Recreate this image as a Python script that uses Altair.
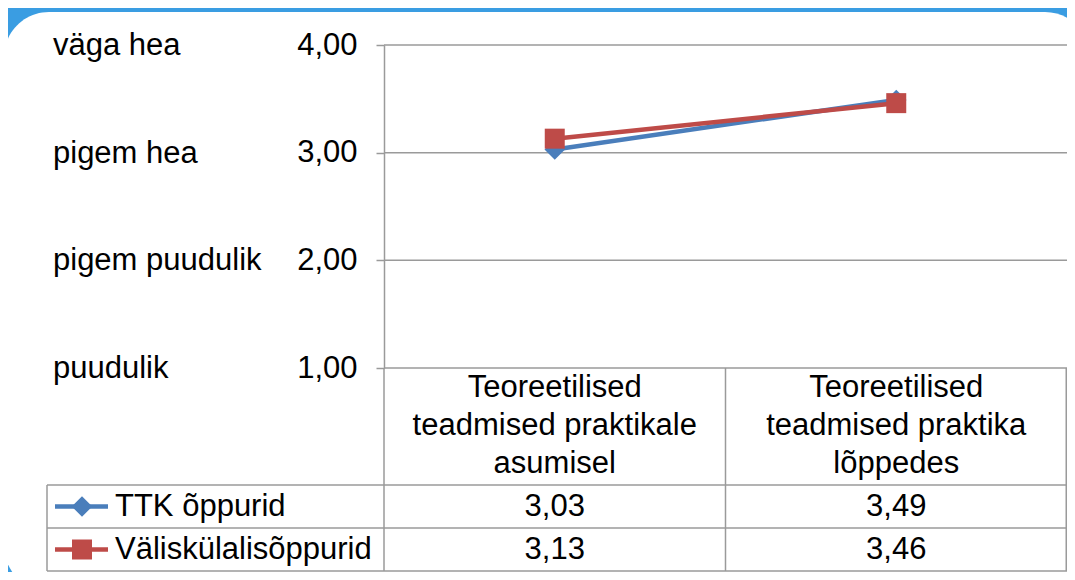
import altair as alt
import pandas as pd

# ---- data ----
categories = ["Teoreetilised\nteadmised praktikale\nasumisel",
              "Teoreetilised\nteadmised praktika\nlõppedes"]
series = ["TTK õppurid", "Väliskülalisõppurid"]
ttk_values = [3.03, 3.49]
valis_values = [3.13, 3.46]
tick_values = [1, 2, 3, 4]
tick_names = ["puudulik", "pigem puudulik", "pigem hea", "väga hea"]

BLUE = "#4a7ebb"
RED = "#be4b48"
GRID = "#9a9a9a"
FONT = "Liberation Sans"
FS = 31

rows = []
for s, vals in zip(series, [ttk_values, valis_values]):
    for c, v in zip(categories, vals):
        rows.append({"category": c, "series": s, "value": v})
df = pd.DataFrame(rows)
ticks_df = pd.DataFrame({"v": tick_values, "name": tick_names})
one = pd.DataFrame({"a": [0]})

W, H = 683, 323
yscale = alt.Scale(domain=[1, 4], nice=False, zero=False)
xscale = alt.Scale(domain=categories, padding=0.5)
yax = alt.Axis(values=tick_values, title=None, grid=False, zindex=1,
               labelExpr="replace(format(datum.value, '.2f'), '.', ',')",
               labelFont=FONT, labelFontSize=FS, labelColor="black",
               tickSize=8, tickColor=GRID, tickWidth=1.5,
               domainColor=GRID, domainWidth=1.5, labelPadding=19)
color = alt.Color("series:N", scale=alt.Scale(domain=series, range=[BLUE, RED]), legend=None)
shape = alt.Shape("series:N", scale=alt.Scale(domain=series, range=["diamond", "square"]), legend=None)
size = alt.Size("series:N", scale=alt.Scale(domain=series, range=[420, 400]), legend=None)

panel = alt.Chart(one).mark_rect(color="white", cornerRadius=45).encode(
    x=alt.value(-380), x2=alt.value(706), y=alt.value(-33), y2=alt.value(546))

grid = alt.Chart(ticks_df).mark_rule(color=GRID, strokeWidth=1.5).encode(
    y=alt.Y("v:Q", scale=yscale, axis=yax))

def rule(x, x2, y, y2):
    return alt.Chart(one).mark_rule(color=GRID, strokeWidth=1.5).encode(
        x=alt.value(x), x2=alt.value(x2), y=alt.value(y), y2=alt.value(y2))

ROW1, ROW2, BOTTOM = 440, 483, 526
table_lines = [
    rule(0, 0, H, BOTTOM),
    rule(W / 2, W / 2, H, BOTTOM),
    rule(W - 0.75, W - 0.75, H, BOTTOM),
    rule(-337, -337, ROW1, BOTTOM),
    rule(-337, W, ROW1, ROW1),
    rule(-337, W, ROW2, ROW2),
    rule(-337, W, BOTTOM, BOTTOM),
]

names = alt.Chart(ticks_df).mark_text(align="left", baseline="middle", font=FONT,
                                      fontSize=FS, color="black", dy=1).encode(
    x=alt.value(-331), y=alt.Y("v:Q", scale=yscale, axis=yax), text="name:N")

lines = alt.Chart(df).mark_line(strokeWidth=4.5).encode(
    x=alt.X("category:N", scale=xscale, axis=None),
    y=alt.Y("value:Q", scale=yscale, axis=yax),
    color=color, detail="series:N")
points = alt.Chart(df).mark_point(filled=True, opacity=1).encode(
    x=alt.X("category:N", scale=xscale, axis=None),
    y=alt.Y("value:Q", scale=yscale, axis=yax),
    color=color, shape=shape, size=size)

header = alt.Chart(pd.DataFrame({"category": categories})).mark_text(
    align="center", baseline="middle", lineBreak="\n", lineHeight=38,
    font=FONT, fontSize=FS, color="black").encode(
    x=alt.X("category:N", scale=xscale, axis=None), y=alt.value(343), text="category:N")

row_y = {series[0]: (ROW1 + ROW2) / 2, series[1]: (ROW2 + BOTTOM) / 2}
row_layers = []
for s in series:
    sub = df[df["series"] == s]
    row_layers.append(
        alt.Chart(sub).transform_calculate(
            label="replace(format(datum.value, '.2f'), '.', ',')"
        ).mark_text(align="center", baseline="middle", font=FONT, fontSize=FS,
                    color="black").encode(
            x=alt.X("category:N", scale=xscale, axis=None),
            y=alt.value(row_y[s]), text="label:N"))
    leg = pd.DataFrame({"series": [s]})
    row_layers.append(
        alt.Chart(leg).mark_rule(strokeWidth=4.5).encode(
            x=alt.value(-329), x2=alt.value(-276), y=alt.value(row_y[s]), color=color))
    row_layers.append(
        alt.Chart(leg).mark_point(filled=True, opacity=1).encode(
            x=alt.value(-302), y=alt.value(row_y[s]), color=color, shape=shape, size=size))
    row_layers.append(
        alt.Chart(leg).mark_text(align="left", baseline="middle", font=FONT,
                                 fontSize=FS, color="black").encode(
            x=alt.value(-269), y=alt.value(row_y[s]), text="series:N"))

chart = alt.layer(panel, grid, *table_lines, names, lines, points, header, *row_layers).properties(
    width=W, height=H,
    autosize=alt.AutoSizeParams(type="none"),
    padding={"left": 376, "top": 37, "right": 0, "bottom": 204},
).configure(background="#3a9de2").configure_view(stroke=None)

chart.save("out.html", embed_options={"renderer": "svg", "actions": False})
